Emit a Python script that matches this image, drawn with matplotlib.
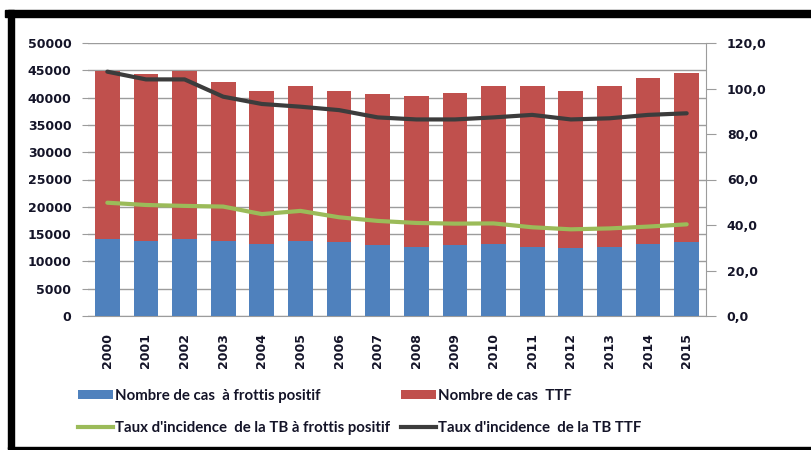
import matplotlib
matplotlib.use("Agg")
import matplotlib.pyplot as plt
from matplotlib.patches import Rectangle, Patch
from matplotlib.lines import Line2D

years = ["2000", "2001", "2002", "2003", "2004", "2005", "2006", "2007",
         "2008", "2009", "2010", "2011", "2012", "2013", "2014", "2015"]
cas_ttf = [44900, 44300, 44800, 42900, 41300, 42100, 41300, 40600,
           40300, 40800, 42100, 42100, 41300, 42100, 43500, 44500]
cas_positif = [14100, 13750, 14100, 13750, 13250, 13750, 13500, 12950,
               12700, 12950, 13250, 12700, 12450, 12700, 13250, 13500]
taux_ttf = [107.4, 104.0, 104.0, 96.4, 93.2, 92.0, 90.5, 87.3,
            86.4, 86.4, 87.3, 88.4, 86.4, 86.9, 88.4, 89.1]
taux_positif = [49.8, 48.8, 48.4, 48.1, 44.8, 46.2, 43.4, 41.8,
                40.9, 40.6, 40.7, 39.0, 38.1, 38.5, 39.3, 40.3]
left_ticks = [0, 5000, 10000, 15000, 20000, 25000, 30000, 35000, 40000, 45000, 50000]
right_ticks = [0, 20, 40, 60, 80, 100, 120]

labels = ["Nombre de cas  à frottis positif", "Nombre de cas  TTF",
          "Taux d'incidence  de la TB à frottis positif", "Taux d'incidence  de la TB TTF"]

BLUE = "#4F81BD"
RED = "#C0504D"
GREEN = "#9BBB59"
DARK = "#3C3C3C"
GRID = "#9C9C9C"
TXT = "#141428"

W, H = 811, 450
fig = plt.figure(figsize=(W / 100, H / 100), dpi=100)
fig.patch.set_facecolor("white")

ax = fig.add_axes([88 / W, 1 - 316 / H, (706 - 88) / W, (316 - 43) / H])
x = list(range(len(years)))
ax.bar(x, cas_ttf, width=0.64, color=RED, zorder=2)
ax.bar(x, cas_positif, width=0.64, color=BLUE, zorder=3)
ax.set_xlim(-0.5, len(years) - 0.5)
ax.set_ylim(0, 50000)
ax.set_yticks(left_ticks)
ax.set_yticklabels([str(v) for v in left_ticks])
ax.yaxis.grid(True, color=GRID, linewidth=1.0)
ax.set_axisbelow(True)
ax.set_xticks(x)
ax.set_xticklabels(years, rotation=90)
for s in ["top", "left", "right"]:
    ax.spines[s].set_visible(False)
ax.spines["bottom"].set_color(GRID)
ax.tick_params(axis="y", length=4, color=GRID, pad=8, labelsize=9)
ax.tick_params(axis="x", length=0, pad=12, labelsize=9)
for t in ax.get_yticklabels() + ax.get_xticklabels():
    t.set_fontweight("bold")
    t.set_color(TXT)

ax2 = ax.twinx()
ax2.plot(x, taux_positif, color=GREEN, linewidth=3, solid_joinstyle="round",
         solid_capstyle="round", zorder=4)
ax2.plot(x, taux_ttf, color=DARK, linewidth=3, solid_joinstyle="round",
         solid_capstyle="round", zorder=4)
ax2.set_ylim(0, 120)
ax2.set_yticks(right_ticks)
ax2.set_yticklabels([f"{v},0" for v in right_ticks])
for s in ["top", "left", "bottom"]:
    ax2.spines[s].set_visible(False)
ax2.spines["right"].set_color(GRID)
ax2.tick_params(axis="y", length=7, color=GRID, pad=8, labelsize=9)
for t in ax2.get_yticklabels():
    t.set_fontweight("bold")
    t.set_color(TXT)

legend_kw = dict(loc="upper left", frameon=False, handlelength=2.3,
                 handleheight=0.55, handletextpad=0.15, labelspacing=1.2,
                 borderpad=0, borderaxespad=0,
                 prop={"family": "Lato", "size": 10.8, "weight": "bold"})
leg1 = fig.legend([Patch(facecolor=BLUE), Line2D([], [], color=GREEN, linewidth=3)],
                  [labels[0], labels[2]], bbox_to_anchor=(78 / W, 1 - 389 / H), **legend_kw)
leg2 = fig.legend([Patch(facecolor=RED), Line2D([], [], color=DARK, linewidth=3)],
                  [labels[1], labels[3]], bbox_to_anchor=(401 / W, 1 - 389 / H), **legend_kw)
for lg in (leg1, leg2):
    for t in lg.get_texts():
        t.set_color(TXT)

# black frame pieces
fig.patches.append(Rectangle((5 / W, 1 - 17 / H), 806 / W, 7 / H,
                             transform=fig.transFigure, color="black", zorder=10))
fig.patches.append(Rectangle((8 / W, 1 - 449 / H), 6 / W, 439 / H,
                             transform=fig.transFigure, color="black", zorder=10))
fig.patches.append(Rectangle((8 / W, 1 - 449 / H), 803 / W, 2.5 / H,
                             transform=fig.transFigure, color="black", zorder=10))

fig.savefig("out.png", dpi=100)
